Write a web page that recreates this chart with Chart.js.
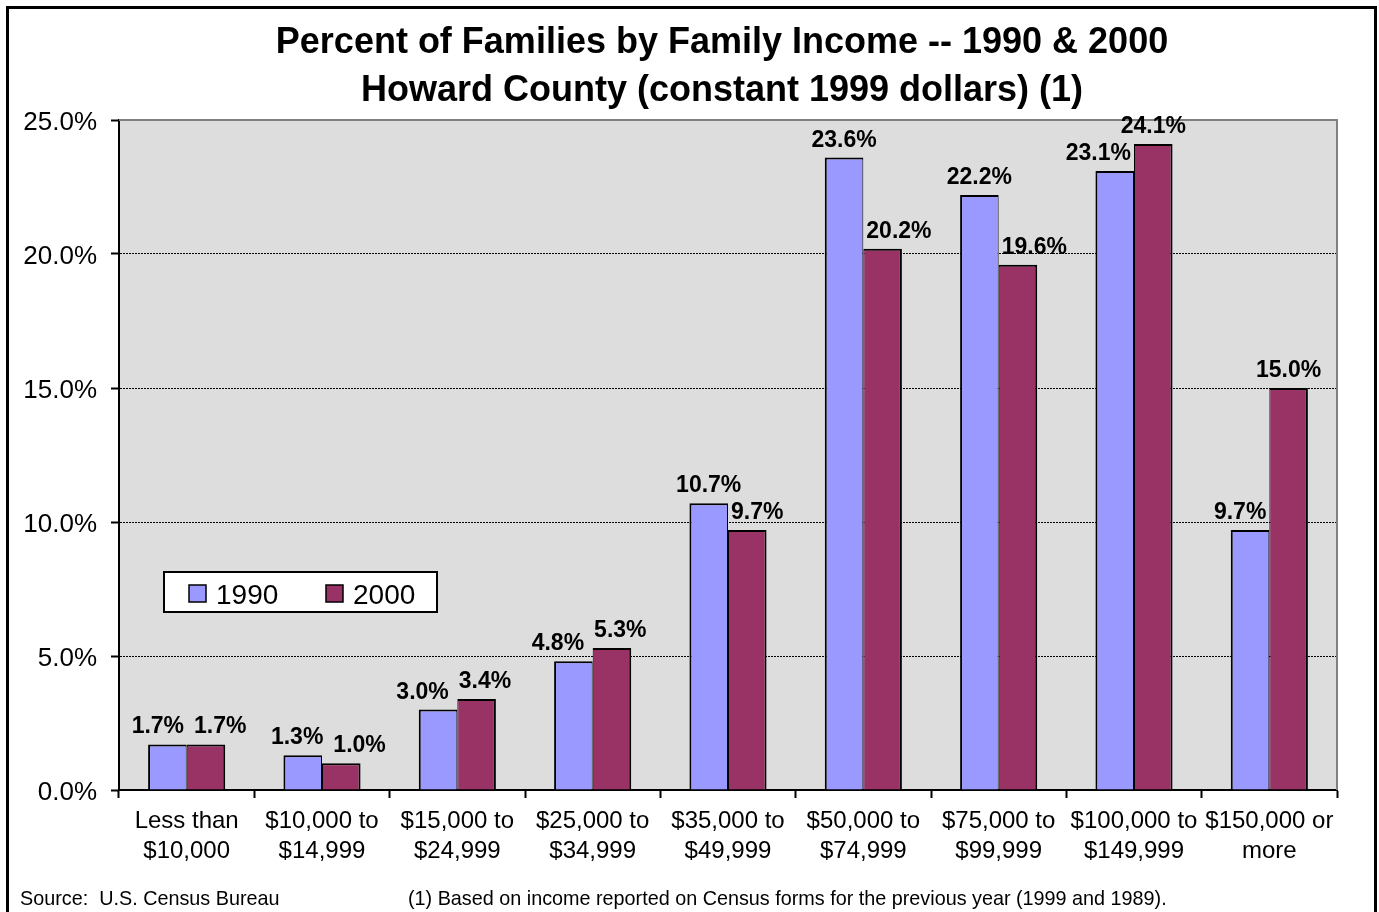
<!DOCTYPE html>
<html>
<head>
<meta charset="utf-8">
<title>Percent of Families by Family Income</title>
<script src="https://cdn.jsdelivr.net/npm/chart.js@4.4.1/dist/chart.umd.min.js"></script>
<style>
  html, body { margin: 0; padding: 0; background: #fff; }
  #wrap { width: 1379px; height: 912px; position: relative; }
</style>
</head>
<body>
<div id="wrap"><canvas id="incomeChart"></canvas></div>
<script>
//Income brackets along the bottom axis (two lines each)
const incomeBrackets = [
  ["Less than", "$10,000"],
  ["$10,000 to", "$14,999"],
  ["$15,000 to", "$24,999"],
  ["$25,000 to", "$34,999"],
  ["$35,000 to", "$49,999"],
  ["$50,000 to", "$74,999"],
  ["$75,000 to", "$99,999"],
  ["$100,000 to", "$149,999"],
  ["$150,000 or", "more"]
];

//Percent of families in each bracket
const pct1990 = [1.7, 1.3, 3.0, 4.8, 10.7, 23.6, 22.2, 23.1, 9.7];
const pct2000 = [1.7, 1.0, 3.4, 5.3, 9.7, 20.2, 19.6, 24.1, 15.0];

//Axis range for the percent scale
const yMin = 0;
const yMax = 25;
const yStep = 5;

const titleLines = [
  "Percent of Families by Family Income -- 1990 & 2000",
  "Howard County (constant 1999 dollars) (1)"
];
const sourceNote = "Source:  U.S. Census Bureau";
const incomeNote = "(1) Based on income reported on Census forms for the previous year (1999 and 1989).";

const FONT = '"Liberation Sans", Arial, Helvetica, sans-serif';

//Works out where each pair of value labels goes so they stay off the
//neighbouring bar and off each other
function placePairLabels(ctx, barA, barB, textA, textB) {
  const gap = 3;
  const lift = 11;
  const textH = 17;
  const wA = ctx.measureText(textA).width;
  const wB = ctx.measureText(textB).width;
  let xA = barA.x;
  let xB = barB.x;
  const yA = barA.y - lift;
  const yB = barB.y - lift;
  const leftEdgeB = barB.x - barB.width / 2;
  const rightEdgeA = barA.x + barA.width / 2;

  //label sits low enough to run into the taller bar beside it
  if (yA + 3 > barB.y && xA + wA / 2 > leftEdgeB - gap) {
    xA = leftEdgeB - gap - wA / 2;
  }
  if (yB + 3 > barA.y && xB - wB / 2 < rightEdgeA + gap) {
    xB = rightEdgeA + gap + wB / 2;
  }

  //labels at about the same height that still collide get pushed apart
  const vOverlap = Math.abs(yA - yB) < textH;
  const hOverlap = (xA + wA / 2 + 10) - (xB - wB / 2);
  if (vOverlap && hOverlap > 0) {
    xA -= hOverlap * 0.4;
    xB += hOverlap * 0.6;
  }
  return [[xA, yA], [xB, yB]];
}

//Draws the white page, frame, plot background, labels, legend and notes
const pageDecor = {
  id: "pageDecor",
  beforeDraw(chart) {
    const ctx = chart.ctx;
    const a = chart.chartArea;
    ctx.save();
    ctx.fillStyle = "#ffffff";
    ctx.fillRect(0, 0, chart.width, chart.height);
    ctx.strokeStyle = "#000";
    ctx.lineWidth = 3;
    ctx.strokeRect(7.5, 7.5, 1368, 930);
    ctx.fillStyle = "#dddddd";
    ctx.fillRect(a.left, a.top, a.right - a.left, a.bottom - a.top);
    ctx.restore();
  },
  beforeDatasetsDraw(chart) {
    const ctx = chart.ctx;
    const a = chart.chartArea;
    ctx.save();
    ctx.strokeStyle = "#808080";
    ctx.lineWidth = 2;
    ctx.beginPath();
    ctx.moveTo(a.left, a.top);
    ctx.lineTo(a.right, a.top);
    ctx.lineTo(a.right, a.bottom);
    ctx.stroke();
    ctx.restore();
  },
  afterDatasetsDraw(chart) {
    const ctx = chart.ctx;
    ctx.save();

    //value labels above each bar
    ctx.fillStyle = "#000";
    ctx.font = "bold 23px " + FONT;
    ctx.textAlign = "center";
    ctx.textBaseline = "alphabetic";
    const d1 = chart.data.datasets[0].data;
    const d2 = chart.data.datasets[1].data;
    const bars1 = chart.getDatasetMeta(0).data;
    const bars2 = chart.getDatasetMeta(1).data;
    bars1.forEach((bar, j) => {
      const t1 = d1[j].toFixed(1) + "%";
      const t2 = d2[j].toFixed(1) + "%";
      const pos = placePairLabels(ctx, bar, bars2[j], t1, t2);
      ctx.fillText(t1, pos[0][0], pos[0][1]);
      ctx.fillText(t2, pos[1][0], pos[1][1]);
    });

    //legend box
    ctx.fillStyle = "#fff";
    ctx.fillRect(164, 572, 273, 40);
    ctx.strokeStyle = "#000";
    ctx.lineWidth = 2;
    ctx.strokeRect(164, 572, 273, 40);
    const swatchX = [189, 326];
    ctx.font = "28px " + FONT;
    ctx.textAlign = "left";
    chart.data.datasets.forEach((ds, i) => {
      ctx.fillStyle = ds.backgroundColor;
      ctx.fillRect(swatchX[i], 585, 17, 17);
      ctx.lineWidth = 1.5;
      ctx.strokeRect(swatchX[i], 585, 17, 17);
      ctx.fillStyle = "#000";
      ctx.fillText(ds.label, swatchX[i] + 27, 604);
    });

    //title
    ctx.font = "bold 36px " + FONT;
    ctx.textAlign = "center";
    ctx.fillText(titleLines[0], 722, 53);
    ctx.fillText(titleLines[1], 722, 101);

    //footnotes
    ctx.font = "19.8px " + FONT;
    ctx.textAlign = "left";
    ctx.fillText(sourceNote, 20, 905);
    ctx.fillText(incomeNote, 408, 905);
    ctx.restore();
  }
};

new Chart(document.getElementById("incomeChart"), {
  type: "bar",
  data: {
    labels: incomeBrackets,
    datasets: [
      {
        label: "1990",
        data: pct1990,
        backgroundColor: "#9999ff",
        borderColor: "#000",
        borderWidth: { top: 2, left: 2, right: 1, bottom: 0 },
        categoryPercentage: 0.57,
        barPercentage: 1.0
      },
      {
        label: "2000",
        data: pct2000,
        backgroundColor: "#993366",
        borderColor: "#000",
        borderWidth: { top: 2, left: 1, right: 2, bottom: 0 },
        categoryPercentage: 0.57,
        barPercentage: 1.0
      }
    ]
  },
  options: {
    responsive: true,
    maintainAspectRatio: false,
    animation: false,
    layout: { padding: { top: 120, right: 42, left: 0, bottom: 0 } },
    plugins: {
      legend: { display: false },
      title: { display: false },
      tooltip: { enabled: false }
    },
    scales: {
      x: {
        grid: {
          offset: true,
          drawOnChartArea: false,
          drawTicks: true,
          tickLength: 8,
          tickColor: "#000",
          tickWidth: 2
        },
        border: { color: "#000", width: 2 },
        ticks: {
          color: "#000",
          font: { family: FONT, size: 24, lineHeight: 1.25 },
          padding: 8,
          autoSkip: false,
          maxRotation: 0
        },
        afterFit: (s) => { s.height = 122; }
      },
      y: {
        min: yMin,
        max: yMax,
        grid: {
          color: (c) => (c.tick && (c.tick.value === yMax || c.tick.value === yMin)) ? "rgba(0,0,0,0)" : "#000",
          lineWidth: 1,
          drawTicks: true,
          tickLength: 8,
          tickColor: "#000",
          tickWidth: 2
        },
        border: { color: "#000", width: 2, dash: [2, 1] },
        ticks: {
          stepSize: yStep,
          color: "#000",
          font: { family: FONT, size: 26 },
          padding: 14,
          labelOffset: 3,
          callback: (v) => v.toFixed(1) + "%"
        },
        afterFit: (s) => { s.width = 119; }
      }
    }
  },
  plugins: [pageDecor]
});
</script>
</body>
</html>
